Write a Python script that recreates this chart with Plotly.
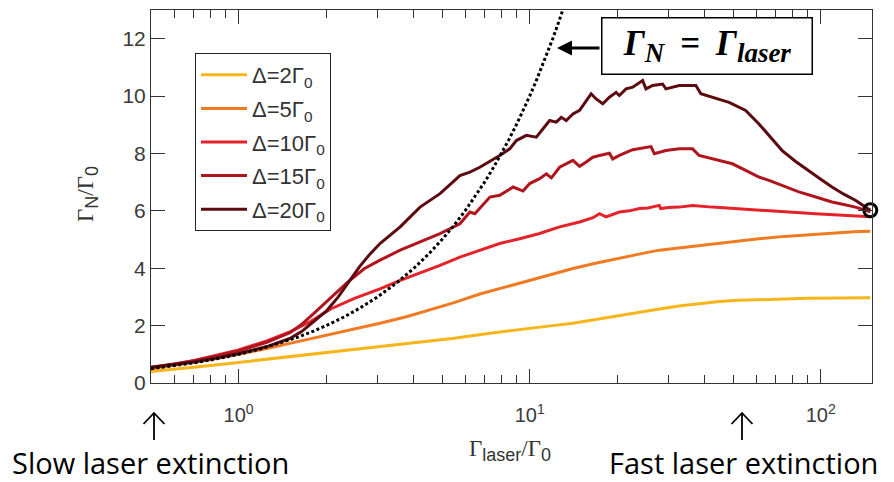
import plotly.graph_objects as go
import math

# ---------------- data ----------------
x_d2 = [0.5, 0.6, 0.7, 0.85, 1.0, 1.25, 1.5, 2.0, 2.5, 3.06, 3.8, 4.5, 5.5, 7.0, 8.5, 10, 12, 14.08, 17, 20, 24, 28.6, 33, 38.2, 45, 52, 61.3, 75, 90, 110, 130, 148]
y_d2 = [0.40, 0.47, 0.55, 0.64, 0.72, 0.82, 0.91, 1.05, 1.16, 1.26, 1.36, 1.44, 1.56, 1.71, 1.82, 1.92, 2.00, 2.08, 2.22, 2.36, 2.49, 2.60, 2.69, 2.77, 2.84, 2.88, 2.91, 2.93, 2.95, 2.96, 2.97, 2.97]

x_d5 = [0.5, 0.6, 0.7, 0.85, 1.0, 1.25, 1.5, 2.0, 2.5, 3.06, 3.8, 4.5, 5.5, 6.74, 8.5, 10, 12, 14.08, 17, 20, 24, 27.87, 33, 38.2, 45, 52, 61.3, 75, 90, 110, 130, 148]
y_d5 = [0.50, 0.61, 0.72, 0.86, 1.00, 1.20, 1.38, 1.66, 1.88, 2.08, 2.32, 2.54, 2.80, 3.10, 3.38, 3.58, 3.80, 3.99, 4.18, 4.34, 4.50, 4.63, 4.72, 4.80, 4.88, 4.96, 5.03, 5.11, 5.17, 5.23, 5.27, 5.29]

x_d10 = [0.5, 0.6, 0.7, 0.85, 1.0, 1.25, 1.5, 1.75, 2.07, 2.5, 3.06, 3.59, 4.2, 4.92, 5.76, 6.74, 7.89, 9.24, 10.82, 12.67, 14.84, 16.5, 17.37, 18.3, 20.33, 22, 23.8, 25.5, 27.87, 28.2, 30, 32.64, 36.27, 42.45, 49.7, 55, 61.34, 70, 80, 95.9, 115, 130, 148]
y_d10 = [0.53, 0.65, 0.78, 0.97, 1.15, 1.47, 1.78, 2.12, 2.58, 2.95, 3.28, 3.58, 3.83, 4.10, 4.39, 4.63, 4.86, 5.03, 5.21, 5.44, 5.61, 5.76, 5.90, 5.79, 5.96, 6.00, 6.08, 6.10, 6.19, 6.08, 6.12, 6.13, 6.19, 6.13, 6.08, 6.05, 6.02, 5.98, 5.95, 5.90, 5.85, 5.81, 5.79]

x_d15 = [0.5, 0.6, 0.7, 0.85, 1.0, 1.25, 1.5, 1.65, 1.81, 2.07, 2.36, 2.7, 3.06, 3.59, 4.2, 4.92, 5.76, 6.23, 6.48, 7.30, 7.89, 8.77, 9.49, 10.0, 10.82, 11.41, 11.87, 12.67, 14.08, 14.84, 15.64, 16.48, 17.37, 18.79, 19.29, 20.33, 22.59, 25.09, 26.11, 26.8, 29.38, 32.64, 36.27, 38.2, 42.45, 49.7, 55.21, 61.34, 66.4, 75, 84.1, 95, 109.3, 120, 131.5, 148]
y_d15 = [0.55, 0.66, 0.78, 0.95, 1.12, 1.42, 1.75, 2.05, 2.42, 2.98, 3.50, 3.98, 4.28, 4.63, 4.92, 5.21, 5.55, 5.96, 5.90, 6.48, 6.54, 6.83, 6.69, 6.95, 7.12, 7.29, 7.15, 7.52, 7.76, 7.55, 7.70, 7.87, 7.93, 8.01, 7.81, 7.93, 8.13, 8.20, 8.24, 7.99, 8.10, 8.16, 8.16, 7.93, 7.81, 7.64, 7.41, 7.18, 7.06, 6.86, 6.66, 6.50, 6.31, 6.22, 6.13, 5.97]

x_d20 = [0.5, 0.6, 0.7, 0.85, 1.0, 1.25, 1.5, 1.65, 1.81, 2.0, 2.2, 2.36, 2.6, 2.83, 3.06, 3.59, 4.2, 4.92, 5.76, 6.23, 6.74, 7.89, 8.54, 9.0, 9.74, 10.54, 11.11, 11.71, 12.34, 12.84, 13.35, 14.08, 14.84, 15.64, 16.26, 16.92, 17.83, 18.79, 19.81, 20.33, 21.43, 22.59, 24.44, 25.09, 26.45, 28.62, 29.38, 32.64, 37.23, 38.72, 42.45, 48.41, 55.21, 61.34, 67, 73.7, 82, 90.97, 100, 109.3, 120, 131.5, 148]
y_d20 = [0.55, 0.64, 0.73, 0.88, 1.03, 1.27, 1.55, 1.80, 2.15, 2.50, 3.00, 3.45, 4.05, 4.50, 4.86, 5.44, 6.13, 6.60, 7.23, 7.35, 7.52, 7.93, 8.16, 8.45, 8.63, 8.57, 8.86, 9.15, 9.09, 9.26, 9.15, 9.38, 9.50, 9.84, 10.08, 9.90, 9.73, 9.96, 10.13, 10.02, 10.25, 10.31, 10.54, 10.25, 10.37, 10.42, 10.25, 10.37, 10.37, 10.08, 9.96, 9.78, 9.50, 9.03, 8.58, 8.10, 7.72, 7.41, 7.10, 6.83, 6.58, 6.37, 6.02]

# identity line Gamma_N = Gamma_laser
x_ident = [0.5, 0.55, 0.6, 0.7, 0.8, 0.9, 1.0, 1.2, 1.4, 1.6, 1.8, 2.0, 2.3, 2.6, 3.0, 3.5, 4.0, 4.5, 5.0, 5.5, 6.0, 6.5, 7.0, 7.5, 8.0, 8.5, 9.0, 9.5, 10.0, 10.5, 11.0, 11.5, 12.0, 12.5, 13.0, 13.5]
y_ident = [0.5, 0.55, 0.6, 0.7, 0.8, 0.9, 1.0, 1.2, 1.4, 1.6, 1.8, 2.0, 2.3, 2.6, 3.0, 3.5, 4.0, 4.5, 5.0, 5.5, 6.0, 6.5, 7.0, 7.5, 8.0, 8.5, 9.0, 9.5, 10.0, 10.5, 11.0, 11.5, 12.0, 12.5, 13.0, 13.5]

x_circle = [148]
y_circle = [6.02]

series_names = ["Δ=2Γ<sub>0</sub>", "Δ=5Γ<sub>0</sub>", "Δ=10Γ<sub>0</sub>", "Δ=15Γ<sub>0</sub>", "Δ=20Γ<sub>0</sub>"]
series_colors = ["#F6B51B", "#EF7A22", "#E5222A", "#B0151D", "#5C0A10"]

y_tickvals = [0, 2, 4, 6, 8, 10, 12]
x_tickvals = [1, 10, 100]
x_ticktext = ["10<sup>0</sup>", "10<sup>1</sup>", "10<sup>2</sup>"]
x_minor = [0.6, 0.7, 0.8, 0.9, 2, 3, 4, 5, 6, 7, 8, 9, 20, 30, 40, 50, 60, 70, 80, 90]

# ---------------- figure ----------------
fig = go.Figure()
xs = [x_d2, x_d5, x_d10, x_d15, x_d20]
ys = [y_d2, y_d5, y_d10, y_d15, y_d20]
for i in range(5):
    fig.add_trace(go.Scatter(x=xs[i], y=ys[i], mode="lines", name=series_names[i],
                             legendgroup=f"g{i}",
                             line=dict(color=series_colors[i], width=3)))

fig.add_trace(go.Scatter(x=x_ident, y=y_ident, mode="lines", showlegend=False,
                         line=dict(color="black", width=3, dash="3px,2.5px")))
fig.add_trace(go.Scatter(x=x_circle, y=y_circle, mode="markers", showlegend=False,
                         cliponaxis=False,
                         marker=dict(symbol="circle-open", size=13, color="black",
                                     line=dict(width=3, color="black"))))

axis_color = "#333333"
sans = "Liberation Sans, Arial, sans-serif"
serif = "Liberation Serif, Times New Roman, serif"
ytick_font = dict(family=sans, size=21, color="#3a3a3a")
xtick_font = dict(family=sans, size=20, color="#3a3a3a")

fig.update_xaxes(type="log", range=[math.log10(0.5), math.log10(150)],
                 showgrid=False, zeroline=False,
                 showline=True, linecolor=axis_color, linewidth=1, mirror="ticks",
                 ticks="inside", ticklen=14, tickwidth=1, tickcolor=axis_color,
                 tickvals=x_tickvals, ticktext=x_ticktext, tickfont=xtick_font,
                 ticklabelstandoff=14,
                 minor=dict(tickvals=x_minor, ticks="inside", ticklen=8, tickwidth=1,
                            tickcolor=axis_color, showgrid=False))
fig.update_yaxes(range=[0, 13], showgrid=False, zeroline=False,
                 showline=True, linecolor=axis_color, linewidth=1, mirror="ticks",
                 ticks="inside", ticklen=14, tickwidth=1, tickcolor=axis_color,
                 tickvals=y_tickvals, tickfont=ytick_font)

PW, PH, L, T = 721.0, 373.0, 151.0, 10.0
def px(xp):
    return (xp - L) / PW
def py(yp):
    return 1 - (yp - T) / PH

sub = lambda s: "<sub><span style='font-family:Liberation Sans, Arial; font-size:18px'>" + s + "</span></sub>"
eqsub = lambda s: "<sub><span style='font-size:27px'>" + s + "</span></sub>"
calib = "Open Sans, Lato, sans-serif"

annotations = [
    # y-axis title
    dict(text="Γ" + sub("N") + "/Γ" + sub("0"), xref="paper", yref="paper",
         x=px(87), y=py(194), xanchor="center", yanchor="middle", showarrow=False, textangle=-90,
         font=dict(family=serif, size=23, color="#333")),
    # x-axis title
    dict(text="Γ" + sub("laser") + "/Γ" + sub("0"), xref="paper", yref="paper",
         x=px(510), y=py(451), xanchor="center", yanchor="middle", showarrow=False,
         font=dict(family=serif, size=23, color="#333")),
    # boxed equation
    dict(text="<b><i>Γ" + eqsub("N") + "\u2009 = \u2009Γ" + eqsub("laser") + "</i></b>",
         xref="paper", yref="paper",
         x=px(706.5), y=py(46.5), xanchor="center", yanchor="middle", showarrow=False,
         width=207, height=53,
         bordercolor="black", borderwidth=1.5, bgcolor="white",
         font=dict(family=serif, size=35, color="black")),
    # arrow from the box to the dotted line
    dict(text="", xref="paper", yref="paper", x=px(557), y=py(48),
         ax=44, ay=0, axref="pixel", ayref="pixel", showarrow=True,
         arrowhead=2, arrowwidth=3, arrowsize=1, arrowcolor="black"),
    # bottom labels
    dict(text="Slow laser extinction", xref="paper", yref="paper",
         x=px(150), y=py(463), xanchor="center", yanchor="middle", showarrow=False,
         font=dict(family=calib, size=29, color="black")),
    dict(text="Fast laser extinction", xref="paper", yref="paper",
         x=px(743), y=py(463), xanchor="center", yanchor="middle", showarrow=False,
         font=dict(family=calib, size=29, color="black")),
]

# thin "↑" style arrows under the axis (decorative marks in paper coordinates)
def up_arrow(xc):
    tip, tail, arm, half = 413, 440, 424, 10.5
    path = (f"M{px(xc)},{py(tail)} L{px(xc)},{py(tip)} "
            f"M{px(xc - half)},{py(arm)} L{px(xc)},{py(tip)} L{px(xc + half)},{py(arm)}")
    return dict(type="path", xref="paper", yref="paper", path=path,
                line=dict(color="black", width=1.8))

fig.update_layout(
    width=894, height=482,
    margin=dict(l=151, r=22, t=10, b=99),
    paper_bgcolor="white", plot_bgcolor="white",
    annotations=annotations,
    shapes=[up_arrow(154), up_arrow(742)],
    legend=dict(x=px(195), y=py(53), xanchor="left", yanchor="top",
                bordercolor="#222", borderwidth=1, bgcolor="white",
                tracegroupgap=2, itemwidth=46,
                font=dict(family=sans, size=22, color="#333")),
)

fig.write_html("out.html")
